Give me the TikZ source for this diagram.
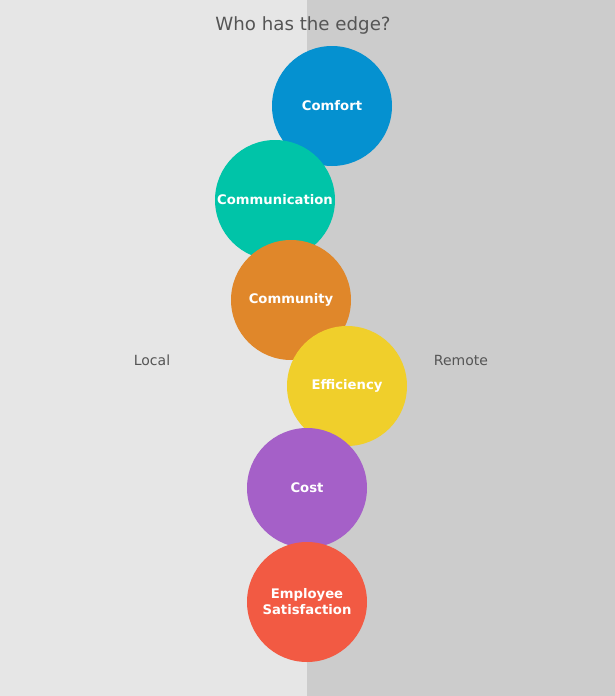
\documentclass[tikz,border=0pt]{standalone}
\usepackage{fontspec}
\setmainfont{DejaVu Sans}
\definecolor{bgl}{HTML}{E6E6E6}
\definecolor{bgr}{HTML}{CCCCCC}
\definecolor{txt}{HTML}{555555}
\definecolor{cblue}{HTML}{0591D0}
\definecolor{cteal}{HTML}{00C4A8}
\definecolor{corange}{HTML}{E0872A}
\definecolor{cyellow}{HTML}{F0CF2B}
\definecolor{cpurple}{HTML}{A560C8}
\definecolor{cred}{HTML}{F25A43}
\tikzset{
  bubble/.style={circle, minimum size=120pt, inner sep=0pt, text=white, align=center,
    font=\fontsize{13.2}{16}\selectfont\bfseries},
  side/.style={text=txt, font=\fontsize{14}{16}\selectfont}
}
\begin{document}
\begin{tikzpicture}[x=1pt,y=-1pt]
\fill[bgl] (0,0) rectangle (307,696);
\fill[bgr] (307,0) rectangle (615,696);
\useasboundingbox (0,0) rectangle (615,696);
\node[text=txt, font=\fontsize{18.2}{21}\selectfont] (title) at (303,25) {Who has the edge?};
\node[side] (local) at (152,360) {Local};
\node[side] (remote) at (461,360) {Remote};
\node[bubble, fill=cblue] (comfort) at (332,106) {Comfort};
\node[bubble, fill=cteal] (comm) at (275,200) {Communication};
\node[bubble, fill=corange] (community) at (291,300) {Community};
\node[bubble, fill=cyellow] (eff) at (347,386) {Efficiency};
\node[bubble, fill=cpurple] (cost) at (307,488) {Cost};
\node[bubble, fill=cred] (emp) at (307,602) {Employee\\Satisfaction};
\end{tikzpicture}
\end{document}
